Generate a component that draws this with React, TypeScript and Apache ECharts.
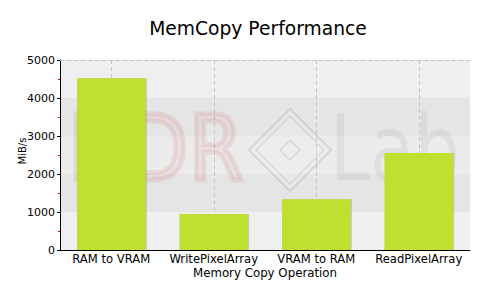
import React, { useEffect, useRef } from "react";
import * as echarts from "echarts";

const categories = ["RAM to VRAM", "WritePixelArray", "VRAM to RAM", "ReadPixelArray"];
const throughput = [4520, 950, 1335, 2555];
const yTicks = { min: 0, max: 5000, interval: 1000 };

const FONT = "DejaVu Sans, Verdana, sans-serif";

export default function App() {
  const ref = useRef<HTMLDivElement>(null);
  useEffect(() => {
    if (!ref.current) return;
    const chart = echarts.init(ref.current, null, { renderer: "svg" });
    chart.setOption({
      animation: false,
      backgroundColor: "#ffffff",
      title: {
        text: "MemCopy Performance",
        left: "center",
        top: 6,
        textStyle: { fontFamily: FONT, fontSize: 18.7, fontWeight: "normal", color: "#000" },
      },
      grid: { left: 52, right: 38, top: 52, bottom: 58 },
      graphic: [
        {
          type: "text",
          z: 1,
          silent: true,
          x: 60,
          y: 96,
          scaleX: 0.88,
          style: {
            text: "HDR",
            font: "normal 90px " + FONT,
            fill: "rgba(215,80,80,0.07)",
            stroke: "rgba(200,60,60,0.10)",
            lineWidth: 5,
          },
        },
        {
          type: "rect",
          z: 1,
          silent: true,
          x: 282,
          y: 142,
          rotation: Math.PI / 4,
          shape: { x: -29, y: -29, width: 58, height: 58 },
          style: { fill: "rgba(255,255,255,0.12)", stroke: "rgba(0,0,0,0.09)", lineWidth: 2 },
        },
        {
          type: "rect",
          z: 1,
          silent: true,
          x: 282,
          y: 142,
          rotation: Math.PI / 4,
          shape: { x: -24, y: -24, width: 48, height: 48 },
          style: { fill: "none", stroke: "rgba(0,0,0,0.08)", lineWidth: 1.5 },
        },
        {
          type: "rect",
          z: 1,
          silent: true,
          x: 282,
          y: 142,
          rotation: Math.PI / 4,
          shape: { x: -7, y: -7, width: 14, height: 14 },
          style: { fill: "none", stroke: "rgba(0,0,0,0.08)", lineWidth: 1.5 },
        },
        {
          type: "text",
          z: 1,
          silent: true,
          x: 322,
          y: 96,
          scaleX: 0.8,
          style: {
            text: "Lab",
            font: "normal 90px " + FONT,
            fill: "rgba(0,0,0,0.05)",
          },
        },
      ],
      xAxis: [
        {
          type: "category",
          data: categories,
          name: "Memory Copy Operation",
          nameLocation: "middle",
          nameGap: 17,
          nameMoveOverlap: false,
          nameTextStyle: { fontFamily: FONT, fontSize: 11.8, color: "#000" },
          axisLine: { lineStyle: { color: "#000", width: 1 } },
          axisTick: { show: false, alignWithLabel: true },
          axisLabel: { fontFamily: FONT, fontSize: 11.6, color: "#000", margin: 3, interval: 0 },
          splitLine: {
            show: true,
            alignWithLabel: true,
            lineStyle: { color: "#c4c4c4", type: [4, 3], width: 1 },
          },
        },
        {
          type: "category",
          data: categories,
          position: "top",
          axisLine: { show: true, lineStyle: { color: "#c4c4c4", type: [4, 3], width: 1 } },
          axisTick: { show: false },
          axisLabel: { show: false },
          splitLine: { show: false },
        },
      ],
      yAxis: {
        type: "value",
        min: yTicks.min,
        max: yTicks.max,
        interval: yTicks.interval,
        name: "MiB/s",
        nameLocation: "middle",
        nameGap: 33,
        nameMoveOverlap: false,
        nameTextStyle: { fontFamily: FONT, fontSize: 10, color: "#000", padding: [0, 0, 0, 8] },
        axisLine: { show: true, lineStyle: { color: "#000", width: 1 } },
        axisTick: { show: true, length: 3, lineStyle: { color: "#000" } },
        minorTick: { show: true, splitNumber: 2, length: 2, lineStyle: { color: "#cc0000" } },
        axisLabel: {
          fontFamily: FONT,
          fontSize: 11,
          color: "#000",
          margin: 5,
          formatter: (v: number) => String(v),
        },
        splitLine: { show: false },
        splitArea: {
          show: true,
          areaStyle: { color: ["#efefef", "#e5e5e5", "#ebebeb", "#e5e5e5", "#efefef"] },
        },
      },
      series: [
        {
          type: "bar",
          data: throughput,
          barWidth: "67%",
          itemStyle: {
            color: "#bde12e",
            shadowColor: "rgba(0,0,0,0.25)",
            shadowOffsetX: 1,
            shadowOffsetY: 0,
            shadowBlur: 0,
          },
        },
      ],
    });
    return () => chart.dispose();
  }, []);
  return <div ref={ref} style={{ width: 500, height: 300 }} />;
}
